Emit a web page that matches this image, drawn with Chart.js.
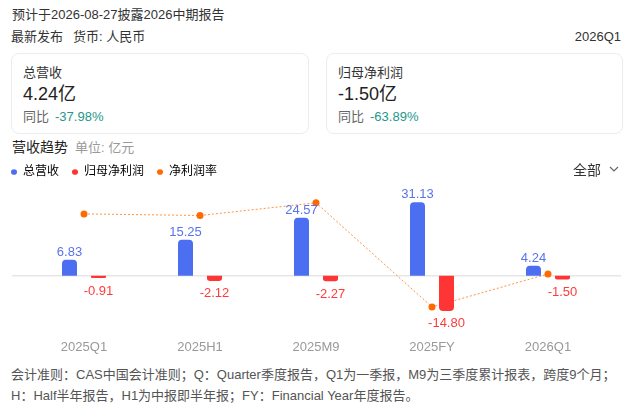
<!DOCTYPE html>
<html>
<head>
<meta charset="utf-8">
<script src="https://cdn.jsdelivr.net/npm/chart.js@4.4.1/dist/chart.umd.min.js"></script>
<style>
    body {
        margin: 0;
        width: 635px;
        height: 410px;
        background: #fff;
        position: relative;
        overflow: hidden;
        font-family: "Liberation Sans", "Noto Sans CJK SC", sans-serif;
        color: #333;
    }
    .t { position: absolute; white-space: nowrap; line-height: 20px; }
    .card {
        position: absolute;
        top: 53px;
        width: 298px;
        height: 81px;
        box-sizing: border-box;
        border: 1px solid #ececec;
        border-radius: 8px;
    }
    .card .name { position: absolute; left: 11px; top: 9px; font-size: 13px; line-height: 20px; color: #333; }
    .card .val { position: absolute; left: 11px; top: 28px; font-size: 18px; line-height: 24px; color: #222; }
    .card .yoy { position: absolute; left: 11px; top: 53px; font-size: 13px; line-height: 20px; color: #666; }
    .card .yoy span { color: #23978a; margin-left: 6px; }
    #wrap { position: absolute; left: -2px; top: 153px; width: 637px; height: 211px; }
</style>
</head>
<body>
<div class="t" style="left:12px;top:5px;font-size:13px;">预计于2026-08-27披露2026中期报告</div>
<div class="t" style="left:11px;top:27px;font-size:13px;">最新发布<span style="margin-left:10px;">货币: 人民币</span></div>
<div class="t" style="right:14px;top:27px;font-size:13px;">2026Q1</div>

<div class="card" style="left:11px;">
    <div class="name">总营收</div>
    <div class="val">4.24亿</div>
    <div class="yoy">同比<span>-37.98%</span></div>
</div>
<div class="card" style="left:326px;width:297px;">
    <div class="name">归母净利润</div>
    <div class="val">-1.50亿</div>
    <div class="yoy">同比<span>-63.89%</span></div>
</div>

<div class="t" style="left:12px;top:137px;font-size:14px;color:#222;">营收趋势<span style="color:#999;font-size:13px;margin-left:7px;">单位: 亿元</span></div>

<div id="wrap"><canvas id="trendChart"></canvas></div>

<div class="t" style="left:573px;top:160px;font-size:14px;color:#333;">全部</div>
<svg style="position:absolute;left:609px;top:166px;" width="10" height="7">
    <polyline points="1,1 5,5 9,1" fill="none" stroke="#666" stroke-width="1.2"/>
</svg>

<div class="t" style="left:11px;top:365px;font-size:13px;color:#555;">会计准则：CAS中国会计准则；Q：Quarter季度报告，Q1为一季报，M9为三季度累计报表，跨度9个月；</div>
<div class="t" style="left:11px;top:386px;font-size:13px;color:#555;">H：Half半年报告，H1为中报即半年报；FY：Financial Year年度报告。</div>

<script>
// 报告期与数据（亿元 / %）
const periods = ['2025Q1', '2025H1', '2025M9', '2025FY', '2026Q1'];
const revenue = [6.83, 15.25, 24.57, 31.13, 4.24];
const netProfit = [-0.91, -2.12, -2.27, -14.80, -1.50];
const netMargin = [-13.32, -13.90, -9.24, -47.54, -35.38];

const seriesNames = ['总营收', '归母净利润', '净利润率'];
const dotColors = ['#4b6ff0', '#ff3434', '#ff6a00'];
const labelColors = ['#5a73ea', '#ff3b3b'];
const FONT = '"Liberation Sans", "Noto Sans CJK SC", sans-serif';

// 零轴线
const zeroLine = {
    id: 'zeroLine',
    beforeDatasetsDraw(chart) {
        const ctx = chart.ctx;
        const y = chart.scales.y.getPixelForValue(0);
        ctx.save();
        ctx.strokeStyle = '#e6e6e6';
        ctx.lineWidth = 1.5;
        ctx.beginPath();
        ctx.moveTo(14, y);
        ctx.lineTo(623, y);
        ctx.stroke();
        ctx.restore();
    }
};

// 柱子数值标签
const valueLabels = {
    id: 'valueLabels',
    afterDatasetsDraw(chart) {
        const ctx = chart.ctx;
        ctx.save();
        ctx.font = '13px ' + FONT;
        ctx.textAlign = 'center';
        ctx.textBaseline = 'alphabetic';
        [0, 1].forEach(di => {
            const meta = chart.getDatasetMeta(di);
            meta.data.forEach((bar, i) => {
                const v = chart.data.datasets[di].data[i];
                ctx.fillStyle = labelColors[di];
                const y = v >= 0 ? bar.y - 4 : bar.y + 16.5;
                ctx.fillText(v.toFixed(2), bar.x, y);
            });
        });
        ctx.restore();
    }
};

new Chart(document.getElementById('trendChart'), {
    data: {
        labels: periods,
        datasets: [
            {
                type: 'bar',
                label: seriesNames[0],
                data: revenue,
                backgroundColor: dotColors[0],
                borderRadius: 4,
                borderSkipped: 'start',
                categoryPercentage: 0.5,
                barPercentage: 0.517,
                yAxisID: 'y',
                order: 1
            },
            {
                type: 'bar',
                label: seriesNames[1],
                data: netProfit,
                backgroundColor: dotColors[1],
                borderRadius: 4,
                borderSkipped: 'start',
                categoryPercentage: 0.5,
                barPercentage: 0.517,
                yAxisID: 'y',
                order: 1
            },
            {
                type: 'line',
                label: seriesNames[2],
                data: netMargin,
                borderColor: 'rgba(255,128,30,0.85)',
                borderWidth: 1,
                borderDash: [2, 2],
                pointRadius: 3.5,
                pointHoverRadius: 3.5,
                pointBackgroundColor: dotColors[2],
                pointBorderWidth: 0,
                tension: 0,
                yAxisID: 'y1',
                order: 2
            }
        ]
    },
    options: {
        responsive: true,
        maintainAspectRatio: false,
        animation: false,
        layout: { padding: 0 },
        plugins: {
            legend: {
                position: 'top',
                align: 'start',
                labels: {
                    usePointStyle: true,
                    boxHeight: 4,
                    pointStyleWidth: 6,
                    padding: 13,
                    color: '#666',
                    font: { size: 12, family: FONT },
                    generateLabels: chart => chart.data.datasets.map((ds, i) => ({
                        text: ds.label,
                        fillStyle: dotColors[i],
                        strokeStyle: dotColors[i],
                        lineWidth: 0,
                        pointStyle: 'circle',
                        hidden: false,
                        datasetIndex: i
                    }))
                }
            },
            tooltip: { enabled: false }
        },
        scales: {
            x: {
                offset: true,
                grid: { display: false, drawTicks: false },
                border: { display: false },
                ticks: { color: '#999', padding: 9, font: { size: 13, family: FONT } }
            },
            y: {
                position: 'left',
                min: -23.03,
                max: 37.1,
                grid: { display: false, drawTicks: false },
                border: { display: false },
                ticks: { display: false },
                afterFit: s => { s.width = 28; }
            },
            y1: {
                position: 'right',
                min: -56.15,
                max: -3.79,
                grid: { display: false, drawTicks: false },
                border: { display: false },
                ticks: { display: false },
                afterFit: s => { s.width = 29; }
            }
        }
    },
    plugins: [zeroLine, valueLabels]
});
</script>
</body>
</html>
